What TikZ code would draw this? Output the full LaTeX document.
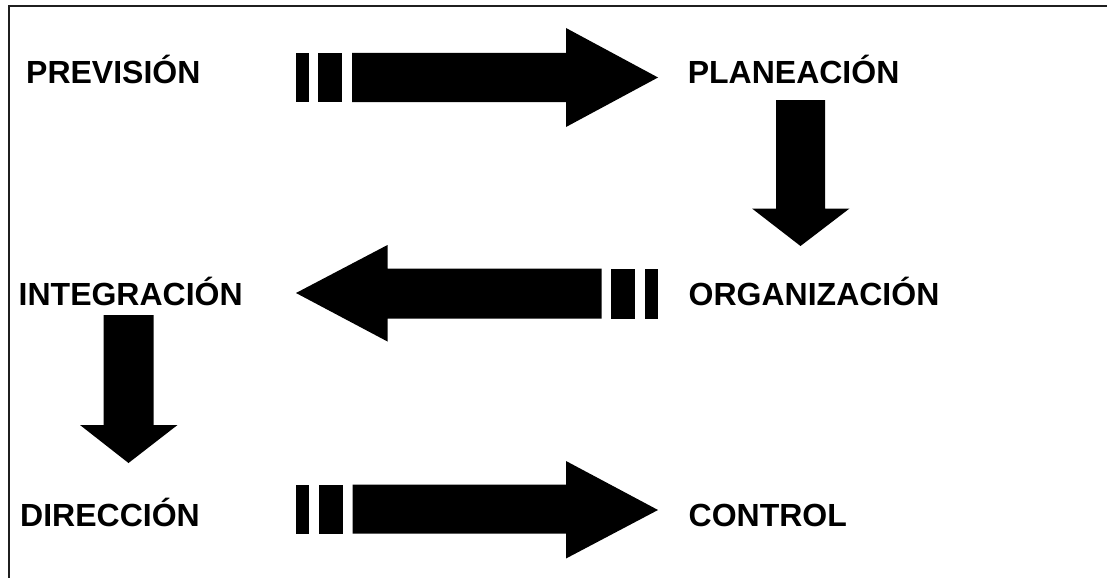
\documentclass[tikz,border=0pt]{standalone}
\usepackage{fontspec}
\setmainfont{Liberation Sans}
\begin{document}
\begin{tikzpicture}[x=1pt,y=-1pt,
  lbl/.style={anchor=base west,inner sep=0pt,font=\fontsize{32}{37}\selectfont\bfseries},
  blk/.style={fill=black},
  frame/.style={draw=black!88,line width=1.8pt}]
\useasboundingbox (0,0) rectangle (1107,578);
% frame (right and bottom edges lie outside the picture)
\draw[frame] (1107,5.8) -- (8.7,5.8) -- (8.7,578);
% labels
\node[lbl] (prev) at (26,83.5) {PREVISIÓN};
\node[lbl] (plan) at (687.6,83.5) {PLANEACIÓN};
\node[lbl] (integ) at (18.5,305.5) {INTEGRACIÓN};
\node[lbl] (org) at (688.5,305.5) {ORGANIZACIÓN};
\node[lbl] (dir) at (20,526) {DIRECCIÓN};
\node[lbl] (ctrl) at (688.5,526) {CONTROL};
% arrow PREVISIÓN -> PLANEACIÓN
\fill[blk] (296,53) rectangle (309,102);
\fill[blk] (318,53) rectangle (342,102);
\fill[blk] (352,53) -- (566,53) -- (566,28) -- (658,77.5) -- (566,127) -- (566,102) -- (352,102) -- cycle;
% arrow PLANEACIÓN -> ORGANIZACIÓN
\fill[blk] (776,100) -- (825,100) -- (825,208.5) -- (849.5,208.5) -- (800.5,246) -- (752,208.5) -- (776,208.5) -- cycle;
% arrow ORGANIZACIÓN -> INTEGRACIÓN
\fill[blk] (645,268.5) rectangle (657.5,318.5);
\fill[blk] (611,268.5) rectangle (635,318.5);
\fill[blk] (601.5,268.5) -- (387.5,268.5) -- (387.5,245) -- (296,293) -- (387.5,341.5) -- (387.5,318.5) -- (601.5,318.5) -- cycle;
% arrow INTEGRACIÓN -> DIRECCIÓN
\fill[blk] (103.5,315) -- (153.5,315) -- (153.5,425) -- (177.5,425) -- (128.5,463) -- (80,425) -- (103.5,425) -- cycle;
% arrow DIRECCIÓN -> CONTROL
\fill[blk] (296,484.5) rectangle (308.5,533.5);
\fill[blk] (318.5,484.5) rectangle (342.5,533.5);
\fill[blk] (352.5,484.5) -- (566,484.5) -- (566,461) -- (658,510) -- (566,558.5) -- (566,533.5) -- (352.5,533.5) -- cycle;
\end{tikzpicture}
\end{document}
